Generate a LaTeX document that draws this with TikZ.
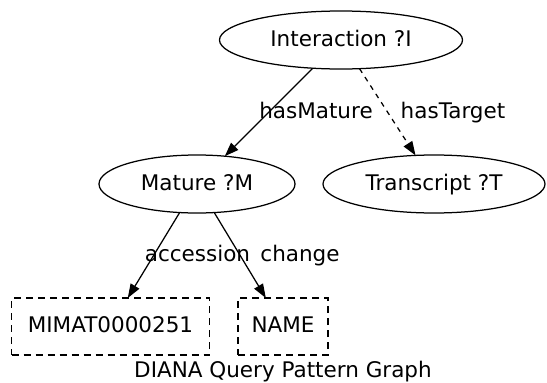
\documentclass[tikz,border=0pt]{standalone}
\usepackage{fontspec}
\setmainfont{DejaVu Sans}
\usetikzlibrary{shapes.geometric,arrows.meta}
\begin{document}
\begin{tikzpicture}[x=1pt,y=-1pt,
  every node/.style={font=\fontsize{21.5}{26}\selectfont, text=black},
  gnode/.style={draw, line width=1.25pt, inner sep=0pt, outer sep=0pt, text height=15pt, text depth=3pt},
  ell/.style={gnode, ellipse},
  valbox/.style={gnode, rectangle, dash pattern=on 7pt off 5pt},
  edge/.style={line width=1.25pt, -{Triangle[length=14pt,width=10pt]}, shorten >=0pt},
  elabel/.style={anchor=base, inner sep=0pt}
]
\useasboundingbox (0,0) rectangle (547,383);
\node[ell, minimum width=243pt, minimum height=58pt] (I) at (341,40) {Interaction ?I};
\node[ell, minimum width=196pt, minimum height=58pt] (M) at (197,184) {Mature ?M};
\node[ell, minimum width=222pt, minimum height=58pt] (T) at (434,184) {Transcript ?T};
\node[valbox, minimum width=198pt, minimum height=57pt] (A) at (110.5,326.5) {MIMAT0000251};
\node[valbox, minimum width=90pt, minimum height=57pt] (N) at (283,326.5) {NAME};
\draw[edge] (I) -- (M);
\draw[edge, dash pattern=on 5pt off 5pt] (I) -- (T);
\draw[edge] (M) -- (A);
\draw[edge] (M) -- (N);
\node[elabel] (lm) at (316,118) {hasMature};
\node[elabel] (lt) at (453,118) {hasTarget};
\node[elabel] (la) at (197.5,261) {accession};
\node[elabel] (lc) at (300,261) {change};
\node[elabel] (title) at (283,377) {DIANA Query Pattern Graph};
\end{tikzpicture}
\end{document}
